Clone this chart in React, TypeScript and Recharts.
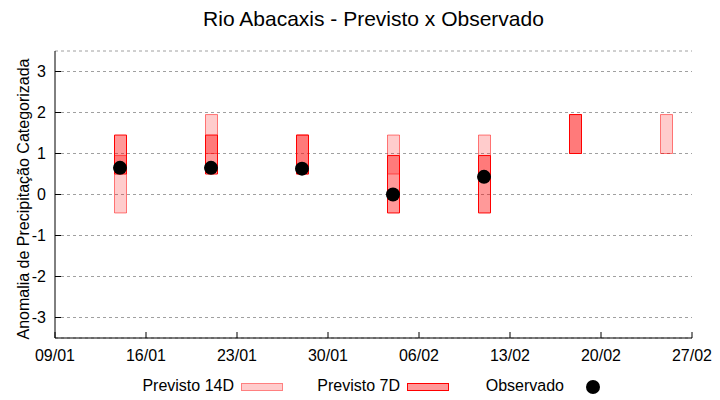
import React from "react";
import { ComposedChart, Bar, Scatter, XAxis, YAxis, CartesianGrid } from "recharts";

// dd/mm of each forecast week
const dates = ["14/01", "21/01", "28/01", "04/02", "11/02", "18/02", "25/02"];
const prev14Low = [-0.45, 1.0, 0.5, 0.5, 0.45, 1.0, 1.0];
const prev14High = [0.95, 1.95, 1.45, 1.45, 1.45, 1.95, 1.95];
const prev7Low = [0.5, 0.5, 0.5, -0.45, -0.45, 1.0, null];
const prev7High = [1.45, 1.45, 1.45, 0.95, 0.95, 1.95, null];
const observado = [0.65, 0.65, 0.63, 0.0, 0.43, null, null];

const xTickLabels = ["09/01", "16/01", "23/01", "30/01", "06/02", "13/02", "20/02", "27/02"];
const yTicks = [-3, -2, -1, 0, 1, 2, 3];

// days since 09/01
const dayIndex = (s: string) => {
  const [d, m] = s.split("/").map(Number);
  return m === 1 ? d - 9 : 22 + d;
};

const xTicks = xTickLabels.map(dayIndex);
const xDomain = [xTicks[0], xTicks[xTicks.length - 1]];

const rows = dates.map((d, i) => ({
  day: dayIndex(d),
  r14: [prev14Low[i], prev14High[i]],
  r7: prev7Low[i] == null ? null : [prev7Low[i], prev7High[i]],
}));

const obsData = dates
  .map((d, i) => ({ day: dayIndex(d), obs: observado[i] }))
  .filter((o) => o.obs != null);

const tickStyle = { fill: "#000", fontSize: 16 };
const noTick = () => <g />;

export default function App() {
  return (
    <div
      style={{
        position: "absolute",
        left: 0,
        top: 0,
        width: 720,
        height: 400,
        background: "#fff",
        fontFamily: "'Liberation Sans', Arial, sans-serif",
      }}
    >
      <ComposedChart
        width={720}
        height={400}
        data={rows}
        margin={{ top: 51, right: 28, left: 0, bottom: 32 }}
      >
        <CartesianGrid
          xAxisId="a"
          yAxisId="l"
          vertical={false}
          stroke="#a0a0a0"
          strokeDasharray="3 3"
        />
        <XAxis
          xAxisId="a"
          dataKey="day"
          type="number"
          domain={xDomain}
          ticks={xTicks}
          tickFormatter={(v) => xTickLabels[xTicks.indexOf(v)] ?? ""}
          height={30}
          tickSize={-6}
          tickMargin={18}
          tick={tickStyle}
          stroke="#000"
          interval={0}
        />
        <XAxis xAxisId="b" dataKey="day" type="number" domain={xDomain} hide />
        <XAxis
          xAxisId="t"
          orientation="top"
          dataKey="day"
          type="number"
          domain={xDomain}
          ticks={xTicks}
          height={0}
          tickSize={-6}
          tick={noTick}
          stroke="#000"
          interval={0}
        />
        <YAxis
          yAxisId="l"
          type="number"
          domain={[-3.5, 3.5]}
          ticks={yTicks}
          width={55}
          tickSize={-6}
          tickMargin={15}
          tick={tickStyle}
          stroke="#000"
          interval={0}
        />
        <YAxis
          yAxisId="r"
          orientation="right"
          type="number"
          domain={[-3.5, 3.5]}
          ticks={yTicks}
          width={0}
          tickSize={-6}
          tick={noTick}
          stroke="#000"
          interval={0}
        />
        <Bar
          xAxisId="a"
          yAxisId="l"
          dataKey="r14"
          name="Previsto 14D"
          barSize={12}
          fill="#ff0000"
          fillOpacity={0.2}
          stroke="#ff0000"
          strokeOpacity={0.5}
          strokeWidth={1}
          isAnimationActive={false}
        />
        <Bar
          xAxisId="b"
          yAxisId="l"
          dataKey="r7"
          name="Previsto 7D"
          barSize={12}
          fill="#ff0000"
          fillOpacity={0.4}
          stroke="#ff0000"
          strokeWidth={1}
          isAnimationActive={false}
        />
        <Scatter
          xAxisId="a"
          yAxisId="l"
          data={obsData}
          dataKey="obs"
          name="Observado"
          isAnimationActive={false}
          shape={(p: any) => <circle cx={p.cx} cy={p.cy} r={7} fill="#000" />}
        />
      </ComposedChart>
      <svg
        width={720}
        height={400}
        style={{ position: "absolute", left: 0, top: 0, pointerEvents: "none" }}
      >
        <text x={373.5} y={26} textAnchor="middle" fontSize={21} fill="#000">
          Rio Abacaxis - Previsto x Observado
        </text>
        <text
          x={29}
          y={199}
          textAnchor="middle"
          fontSize={16}
          fill="#000"
          transform="rotate(-90 29 199)"
        >
          Anomalia de Precipitação Categorizada
        </text>
        <text x={234} y={391} textAnchor="end" fontSize={16} fill="#000">Previsto 14D</text>
        <rect x={241.5} y={383.5} width={41} height={7} fill="#ffcccc" stroke="#ff8080" strokeWidth={1} />
        <text x={400} y={391} textAnchor="end" fontSize={16} fill="#000">Previsto 7D</text>
        <rect x={407.5} y={383.5} width={41} height={7} fill="#ff9999" stroke="#ff0000" strokeWidth={1} />
        <text x={564} y={391} textAnchor="end" fontSize={16} fill="#000">Observado</text>
        <circle cx={593} cy={387} r={7} fill="#000" />
      </svg>
    </div>
  );
}
